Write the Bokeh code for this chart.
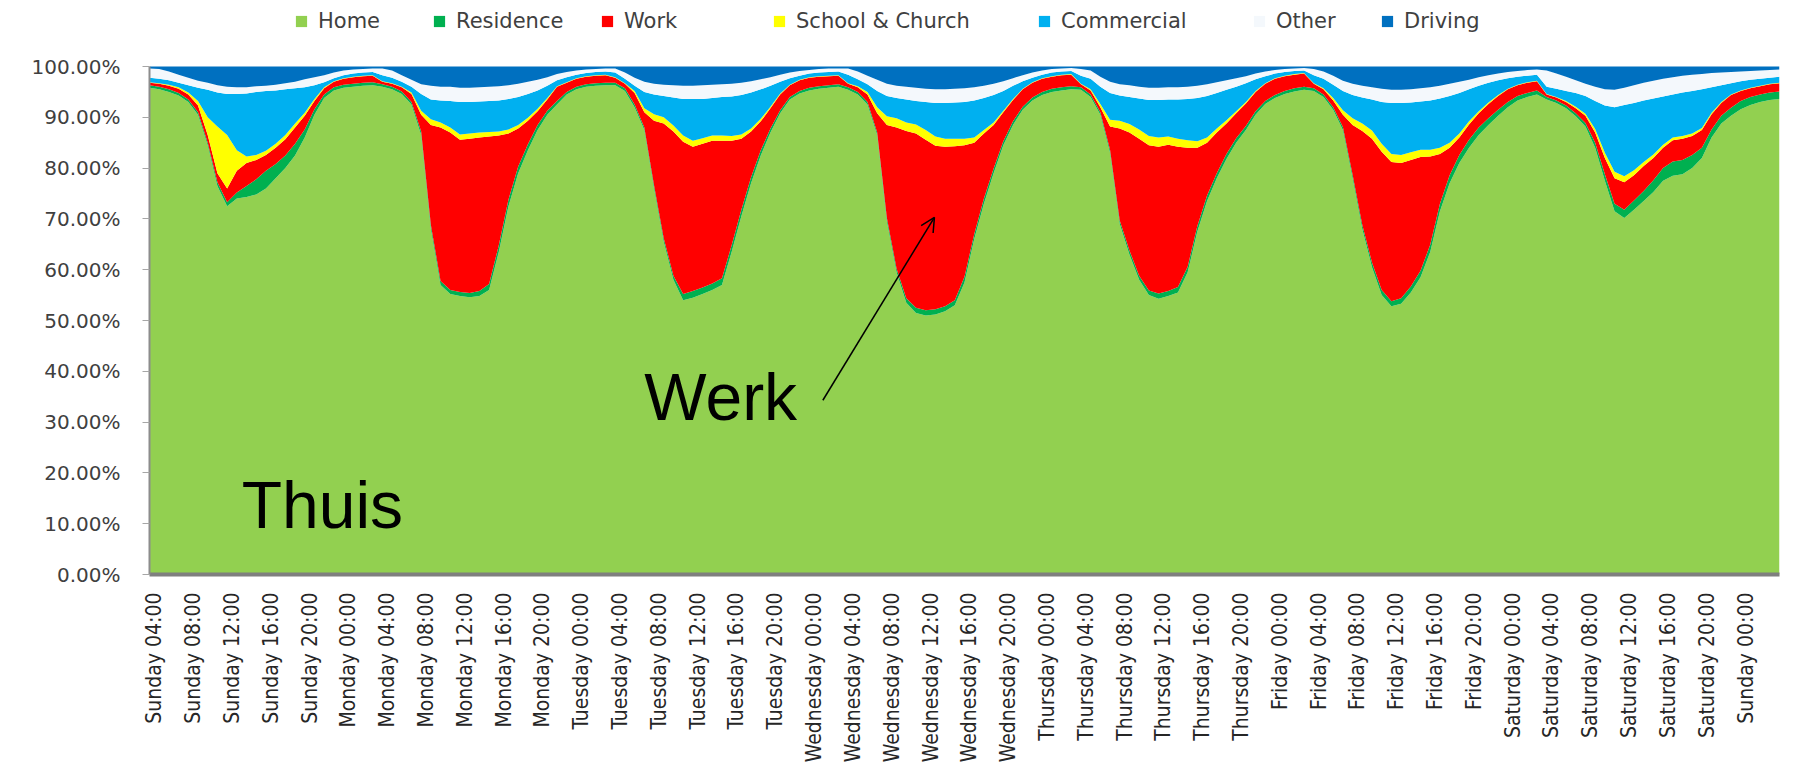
import numpy as np
from bokeh.plotting import figure
from bokeh.models import (ColumnDataSource, Range1d, FixedTicker, PrintfTickFormatter,
                          Legend, LegendItem, Label, Arrow, OpenHead)
from bokeh.embed import file_html
from bokeh.resources import INLINE

# hourly samples (hours since Sunday 00:00), Sunday 03:30 .. next Sunday 03:30
hours = [3.5 + i for i in range(169)]

home = [
    95.8, 95.5, 95.0, 94.3, 93.0, 90.5, 84.5, 76.5, 72.5, 74.0, 74.3, 74.8, 76.0, 78.0, 80.0, 82.5, 86.0, 90.5, 93.8, 95.3, 95.8, 96.0, 96.2, 96.3,
    96.0, 95.5, 94.6, 92.5, 86.5, 68.0, 57.0, 55.2, 54.8, 54.6, 54.8, 56.0, 63.5, 72.5, 79.0, 83.5, 87.5, 90.5, 92.5, 94.5, 95.5, 96.0, 96.2, 96.3,
    96.3, 95.2, 92.0, 87.5, 76.0, 65.5, 58.0, 54.0, 54.5, 55.2, 56.0, 57.0, 63.5, 70.5, 77.0, 82.5, 87.0, 90.8, 93.5, 94.7, 95.3, 95.6, 95.8, 96.0,
    95.4, 94.5, 92.5, 86.5, 69.5, 59.5, 53.5, 51.5, 51.0, 51.2, 51.8, 53.0, 57.5, 66.0, 73.0, 79.0, 84.5, 88.5, 91.5, 93.3, 94.4, 95.0, 95.3, 95.5,
    95.4, 94.0, 90.5, 83.0, 69.0, 63.0, 58.0, 55.0, 54.3, 54.8, 55.5, 59.5, 67.5, 73.5, 78.0, 81.8, 85.0, 87.5, 90.5, 92.6, 93.8, 94.6, 95.1, 95.4,
    95.2, 94.0, 91.5, 87.5, 78.0, 68.0, 60.5, 55.0, 52.8, 53.3, 55.5, 58.5, 63.5, 71.5, 77.0, 81.0, 84.0, 86.5, 88.5, 90.3, 92.0, 93.3, 94.0, 94.5,
    93.5, 92.8, 91.8, 90.2, 88.2, 84.0, 77.5, 71.5, 70.2, 71.8, 73.5, 75.3, 77.5, 78.5, 78.8, 80.0, 82.0, 86.0, 88.8, 90.3, 91.6, 92.4, 93.0, 93.4, 93.6,
]
residence = [
    0.5, 0.5, 0.5, 0.5, 0.5, 0.5, 0.5, 0.7, 0.8, 1.2, 2.2, 3.0, 3.5, 2.8, 2.5, 2.3, 1.6, 1.1, 0.7, 0.6, 0.6, 0.6, 0.6, 0.6,
    0.5, 0.5, 0.5, 0.5, 0.7, 0.8, 0.8, 0.8, 0.8, 0.8, 1.0, 1.2, 1.3, 1.3, 1.3, 1.2, 1.0, 0.8, 0.7, 0.5, 0.5, 0.5, 0.5, 0.5,
    0.5, 0.5, 0.5, 0.5, 0.6, 0.7, 0.8, 1.2, 1.3, 1.3, 1.3, 1.3, 1.3, 1.3, 1.2, 1.0, 0.8, 0.6, 0.5, 0.5, 0.5, 0.5, 0.5, 0.5,
    0.5, 0.5, 0.5, 0.5, 0.7, 0.7, 0.9, 1.0, 1.0, 1.0, 1.0, 1.0, 1.1, 1.0, 1.0, 0.9, 0.8, 0.7, 0.6, 0.6, 0.6, 0.6, 0.6, 0.6,
    0.5, 0.5, 0.5, 0.6, 0.7, 0.8, 0.8, 0.9, 1.0, 1.0, 1.1, 1.1, 1.1, 1.1, 1.0, 1.0, 0.9, 0.8, 0.7, 0.6, 0.6, 0.6, 0.6, 0.6,
    0.5, 0.5, 0.5, 0.6, 0.7, 0.8, 0.9, 1.0, 1.0, 1.1, 1.2, 1.3, 1.4, 1.5, 1.6, 1.6, 1.6, 1.5, 1.3, 1.2, 1.0, 0.9, 0.8, 0.8,
    0.5, 0.5, 0.5, 0.6, 0.7, 1.0, 1.3, 1.5, 1.6, 1.8, 2.0, 2.3, 2.5, 2.8, 2.8, 2.6, 2.0, 1.6, 1.5, 1.6, 1.6, 1.6, 1.5, 1.5, 1.5,
]
work = [
    0.5, 0.6, 0.7, 0.8, 1.0, 1.3, 1.5, 1.8, 2.7, 4.3, 4.5, 3.8, 3.1, 3.2, 3.2, 3.2, 2.7, 1.6, 1.2, 1.1, 1.2, 1.3, 1.3, 1.3,
    0.5, 0.6, 0.8, 1.6, 3.3, 19.7, 30.2, 31.0, 30.0, 30.4, 30.2, 29.0, 21.6, 13.0, 7.5, 4.6, 2.7, 2.2, 2.8, 1.8, 1.6, 1.5, 1.5, 1.5,
    1.0, 0.9, 2.3, 3.0, 12.7, 22.6, 28.4, 30.0, 28.4, 28.3, 28.1, 27.1, 20.6, 14.0, 9.0, 5.7, 4.0, 3.1, 2.3, 2.1, 2.0, 1.9, 1.8, 1.7,
    0.7, 0.9, 1.5, 3.8, 18.3, 27.8, 32.9, 34.3, 33.6, 32.2, 31.4, 30.3, 25.9, 18.0, 12.8, 8.6, 5.7, 4.2, 3.4, 2.9, 2.6, 2.4, 2.4, 2.3,
    0.6, 0.8, 1.0, 4.6, 18.1, 23.2, 27.0, 28.6, 28.9, 28.8, 27.6, 23.4, 15.4, 10.4, 8.0, 6.0, 4.9, 4.4, 3.8, 3.4, 3.2, 2.9, 2.7, 2.6,
    0.9, 1.0, 1.3, 2.4, 9.8, 18.5, 24.4, 27.2, 27.4, 26.6, 24.9, 22.4, 17.4, 9.8, 5.4, 3.4, 3.0, 2.8, 2.8, 2.7, 2.5, 2.1, 2.0, 1.8,
    0.5, 0.6, 0.7, 1.0, 1.4, 2.0, 3.2, 5.0, 5.4, 5.0, 4.9, 4.4, 4.0, 4.2, 4.2, 3.7, 3.5, 3.0, 2.5, 2.5, 2.0, 1.7, 1.6, 1.6, 1.6,
]
school_church = [
    0.1, 0.1, 0.2, 0.3, 0.4, 0.9, 3.5, 9.2, 10.5, 4.0, 1.3, 1.0, 0.8, 0.8, 0.8, 0.8, 0.6, 0.4, 0.2, 0.1, 0.1, 0.1, 0.1, 0.1,
    0.1, 0.1, 0.1, 0.3, 0.8, 1.1, 1.0, 1.0, 1.0, 1.0, 1.0, 0.9, 0.8, 0.8, 0.7, 0.6, 0.5, 0.3, 0.1, 0.1, 0.1, 0.1, 0.1, 0.1,
    0.1, 0.1, 0.4, 0.8, 1.3, 1.2, 1.2, 1.2, 1.2, 1.1, 1.0, 1.0, 0.9, 0.8, 0.6, 0.5, 0.3, 0.2, 0.1, 0.1, 0.1, 0.1, 0.1, 0.1,
    0.1, 0.2, 0.5, 1.2, 1.7, 1.8, 1.7, 1.8, 1.9, 1.8, 1.6, 1.5, 1.3, 1.0, 0.7, 0.5, 0.3, 0.2, 0.1, 0.1, 0.1, 0.1, 0.1, 0.1,
    0.1, 0.2, 0.6, 1.3, 1.5, 1.7, 1.8, 1.8, 1.8, 1.6, 1.6, 1.5, 1.3, 1.0, 0.8, 0.6, 0.4, 0.3, 0.2, 0.1, 0.1, 0.1, 0.1, 0.1,
    0.1, 0.2, 0.5, 0.9, 1.3, 1.5, 1.6, 1.6, 1.6, 1.6, 1.5, 1.4, 1.3, 1.2, 1.0, 0.8, 0.6, 0.4, 0.3, 0.2, 0.1, 0.1, 0.1, 0.1,
    0.1, 0.1, 0.2, 0.3, 0.4, 0.7, 1.0, 1.3, 1.2, 1.0, 0.8, 0.7, 0.6, 0.5, 0.5, 0.5, 0.4, 0.3, 0.2, 0.1, 0.1, 0.1, 0.1, 0.1, 0.1,
]
commercial = [
    0.9, 0.9, 0.9, 0.9, 1.4, 2.6, 5.4, 6.7, 8.1, 11.1, 12.4, 12.4, 11.8, 10.5, 9.0, 6.9, 5.0, 2.7, 1.0, 0.6, 0.6, 0.6, 0.6, 0.6,
    1.2, 1.1, 1.0, 1.1, 3.3, 3.9, 4.3, 5.2, 6.4, 6.2, 6.1, 6.1, 6.1, 6.0, 5.5, 4.7, 3.6, 2.4, 1.2, 1.0, 0.7, 0.6, 0.6, 0.6,
    0.9, 0.9, 1.0, 3.2, 3.9, 4.2, 5.5, 7.2, 8.2, 7.7, 7.4, 7.6, 7.8, 7.8, 7.1, 5.8, 4.1, 2.3, 1.3, 0.8, 0.7, 0.7, 0.7, 0.7,
    1.7, 1.4, 1.5, 3.2, 4.0, 4.0, 4.5, 4.6, 5.5, 6.6, 7.0, 7.1, 7.2, 7.3, 6.3, 5.4, 3.9, 2.6, 1.5, 0.9, 0.7, 0.7, 0.6, 0.6,
    1.6, 2.1, 3.4, 5.3, 5.0, 5.3, 6.1, 7.1, 7.4, 7.3, 7.7, 8.1, 8.5, 8.2, 7.0, 6.0, 4.8, 3.7, 2.3, 1.4, 0.9, 0.7, 0.6, 0.5,
    1.6, 1.9, 2.6, 3.8, 4.6, 5.1, 6.1, 8.2, 10.0, 10.2, 9.8, 9.5, 9.7, 9.7, 9.2, 8.0, 6.3, 5.0, 3.9, 2.9, 2.1, 1.6, 1.3, 1.2,
    1.4, 1.6, 2.0, 2.7, 3.5, 5.5, 9.3, 12.7, 14.0, 13.2, 12.1, 11.0, 9.5, 8.5, 8.6, 8.4, 7.6, 5.0, 3.3, 2.2, 1.8, 1.6, 1.4, 1.2, 1.2,
]
other = [
    1.8, 1.9, 1.7, 1.6, 1.5, 1.4, 1.4, 1.4, 1.4, 1.3, 1.2, 1.1, 1.0, 1.1, 1.2, 1.3, 1.6, 1.6, 1.4, 1.1, 0.9, 0.8, 0.7, 0.7,
    1.3, 1.4, 1.3, 1.4, 1.9, 2.7, 2.7, 2.8, 2.8, 2.8, 2.8, 2.8, 2.8, 2.7, 2.6, 2.4, 2.1, 1.7, 1.2, 1.0, 0.8, 0.7, 0.6, 0.6,
    0.8, 1.2, 1.6, 2.0, 2.1, 2.2, 2.4, 2.6, 2.6, 2.7, 2.6, 2.5, 2.5, 2.4, 2.2, 2.0, 1.7, 1.4, 1.1, 0.9, 0.7, 0.7, 0.7, 0.6,
    1.2, 1.5, 1.7, 2.2, 2.4, 2.4, 2.5, 2.6, 2.6, 2.7, 2.7, 2.7, 2.7, 2.6, 2.4, 2.2, 1.9, 1.5, 1.2, 1.0, 0.8, 0.7, 0.6, 0.6,
    1.3, 1.6, 2.0, 2.2, 2.2, 2.3, 2.3, 2.4, 2.4, 2.4, 2.4, 2.4, 2.4, 2.3, 2.1, 1.9, 1.7, 1.4, 1.1, 0.9, 0.7, 0.6, 0.5, 0.5,
    1.2, 1.4, 1.8, 2.0, 2.2, 2.3, 2.4, 2.6, 2.6, 2.6, 2.6, 2.6, 2.6, 2.5, 2.4, 2.2, 1.9, 1.7, 1.5, 1.3, 1.2, 1.1, 1.1, 1.0,
    3.2, 3.0, 2.8, 2.5, 2.4, 2.8, 3.2, 3.4, 3.4, 3.5, 3.5, 3.5, 3.5, 3.4, 3.3, 3.2, 3.0, 2.8, 2.5, 2.2, 1.9, 1.7, 1.6, 1.5, 1.4,
]
driving = [
    0.4, 0.5, 1.0, 1.6, 2.2, 2.8, 3.2, 3.7, 4.0, 4.1, 4.1, 3.9, 3.8, 3.6, 3.3, 3.0, 2.5, 2.1, 1.7, 1.2, 0.8, 0.6, 0.5, 0.4,
    0.4, 0.8, 1.7, 2.6, 3.5, 3.8, 4.0, 4.0, 4.2, 4.2, 4.1, 4.0, 3.9, 3.7, 3.4, 3.0, 2.6, 2.1, 1.5, 1.1, 0.8, 0.6, 0.5, 0.4,
    0.4, 1.2, 2.2, 3.0, 3.4, 3.6, 3.7, 3.8, 3.8, 3.7, 3.6, 3.5, 3.4, 3.2, 2.9, 2.5, 2.1, 1.6, 1.2, 0.9, 0.7, 0.5, 0.4, 0.4,
    0.4, 1.0, 1.8, 2.6, 3.4, 3.8, 4.0, 4.2, 4.4, 4.5, 4.5, 4.4, 4.3, 4.1, 3.8, 3.4, 2.9, 2.3, 1.7, 1.2, 0.8, 0.5, 0.4, 0.3,
    0.5, 0.8, 2.0, 3.0, 3.5, 3.7, 4.0, 4.2, 4.2, 4.1, 4.1, 4.0, 3.8, 3.5, 3.1, 2.7, 2.3, 1.9, 1.4, 1.0, 0.7, 0.5, 0.4, 0.3,
    0.5, 1.0, 1.8, 2.8, 3.4, 3.8, 4.1, 4.4, 4.6, 4.6, 4.5, 4.3, 4.1, 3.8, 3.4, 3.0, 2.6, 2.1, 1.7, 1.4, 1.1, 0.9, 0.7, 0.6,
    0.8, 1.4, 2.0, 2.7, 3.4, 4.0, 4.5, 4.6, 4.2, 3.7, 3.2, 2.8, 2.4, 2.1, 1.8, 1.6, 1.5, 1.3, 1.2, 1.1, 1.0, 0.9, 0.8, 0.7, 0.6,
]

series_names = ["Home", "Residence", "Work", "School & Church", "Commercial", "Other", "Driving"]
series_colors = ["#92D050", "#00B050", "#FF0000", "#FFFF00", "#00B0F0", "#F4F8FC", "#0070C0"]

tick_labels = [
    "Sunday 04:00", "Sunday 08:00", "Sunday 12:00", "Sunday 16:00", "Sunday 20:00",
    "Monday 00:00", "Monday 04:00", "Monday 08:00", "Monday 12:00", "Monday 16:00", "Monday 20:00",
    "Tuesday 00:00", "Tuesday 04:00", "Tuesday 08:00", "Tuesday 12:00", "Tuesday 16:00", "Tuesday 20:00",
    "Wednesday 00:00", "Wednesday 04:00", "Wednesday 08:00", "Wednesday 12:00", "Wednesday 16:00", "Wednesday 20:00",
    "Thursday 00:00", "Thursday 04:00", "Thursday 08:00", "Thursday 12:00", "Thursday 16:00", "Thursday 20:00",
    "Friday 00:00", "Friday 04:00", "Friday 08:00", "Friday 12:00", "Friday 16:00", "Friday 20:00",
    "Saturday 00:00", "Saturday 04:00", "Saturday 08:00", "Saturday 12:00", "Saturday 16:00", "Saturday 20:00",
    "Sunday 00:00",
]
tick_hours = [4 * (i + 1) for i in range(len(tick_labels))]

cols = ["home", "residence", "work", "school", "commercial", "other", "driving"]
src = ColumnDataSource(dict(t=hours, home=home, residence=residence, work=work,
                            school=school_church, commercial=commercial,
                            other=other, driving=driving))

# frame reaches the top of the page so the legend row (inside it, above 100%) is not clipped
FRAME_LEFT, FRAME_W, FRAME_H = 149, 1630, 574
PLOT_TOP_PX = 66                      # where 100% sits
Y_TOP = 100.0 * FRAME_H / (FRAME_H - PLOT_TOP_PX)
p = figure(x_range=Range1d(3.5, 171.5), y_range=Range1d(0, Y_TOP),
           output_backend="svg", toolbar_location=None,
           frame_width=FRAME_W, frame_height=FRAME_H,
           min_border_left=FRAME_LEFT, min_border_right=6,
           min_border_top=0, min_border_bottom=183)
p.background_fill_color = "white"
p.border_fill_color = "white"
p.outline_line_color = None
p.xgrid.visible = False
p.ygrid.visible = False

renderers = p.varea_stack(stackers=cols, x="t", color=series_colors, source=src)

# legend: one entry per series, at the page x of each swatch in the original
legend_px = [294, 432, 600, 772, 1037, 1252, 1380]
for r, name, px in zip(renderers, series_names, legend_px):
    leg = Legend(items=[LegendItem(label=name, renderers=[r])],
                 location=(px - FRAME_LEFT, FRAME_H - 33), orientation="horizontal",
                 padding=0, margin=0, spacing=0, glyph_width=14, glyph_height=14,
                 label_standoff=10, border_line_alpha=0, background_fill_alpha=0,
                 label_text_font="DejaVu Sans", label_text_font_size="21px",
                 label_text_color="#404040", label_height=20)
    p.add_layout(leg)

# y axis
p.yaxis.ticker = FixedTicker(ticks=list(range(0, 101, 10)))
p.yaxis.bounds = (0, 100)
p.yaxis.formatter = PrintfTickFormatter(format="%.2f%%")
p.yaxis.major_label_text_font = "DejaVu Sans"
p.yaxis.major_label_text_font_size = "20px"
p.yaxis.major_label_text_color = "#404040"
p.yaxis.axis_line_color = "#8c8c8c"
p.yaxis.axis_line_width = 2
p.yaxis.major_tick_line_color = "#a6a6a6"
p.yaxis.major_tick_out = 7
p.yaxis.major_tick_in = 0
p.yaxis.minor_tick_line_color = None
p.yaxis.major_label_standoff = 22

# x axis
p.xaxis.ticker = FixedTicker(ticks=tick_hours)
p.xaxis.major_label_overrides = {h: lab for h, lab in zip(tick_hours, tick_labels)}
p.xaxis.major_label_orientation = np.pi / 2
p.xaxis.major_label_text_font = "Liberation Sans Narrow, DejaVu Sans Condensed, Liberation Sans"
p.xaxis.major_label_text_font_size = "21px"
p.xaxis.major_label_text_color = "#262626"
p.xaxis.major_tick_line_color = None
p.xaxis.minor_tick_line_color = None
p.xaxis.axis_line_color = "#7f7f7f"
p.xaxis.axis_line_width = 4
p.xaxis.major_label_standoff = 12

# annotations
p.add_layout(Label(x=54.5, y=35.0, text="Werk", text_font="Liberation Sans",
                   text_font_size="66px", text_color="black", text_baseline="alphabetic"))
p.add_layout(Label(x=13.0, y=13.7, text="Thuis", text_font="Liberation Sans",
                   text_font_size="66px", text_color="black", text_baseline="alphabetic"))
p.add_layout(Arrow(end=OpenHead(size=14, line_width=1.5, line_color="black"),
                   x_start=72.9, y_start=34.3, x_end=84.4, y_end=70.3,
                   line_width=1.5, line_color="black"))

open("out.html", "w").write(file_html(p, INLINE))
